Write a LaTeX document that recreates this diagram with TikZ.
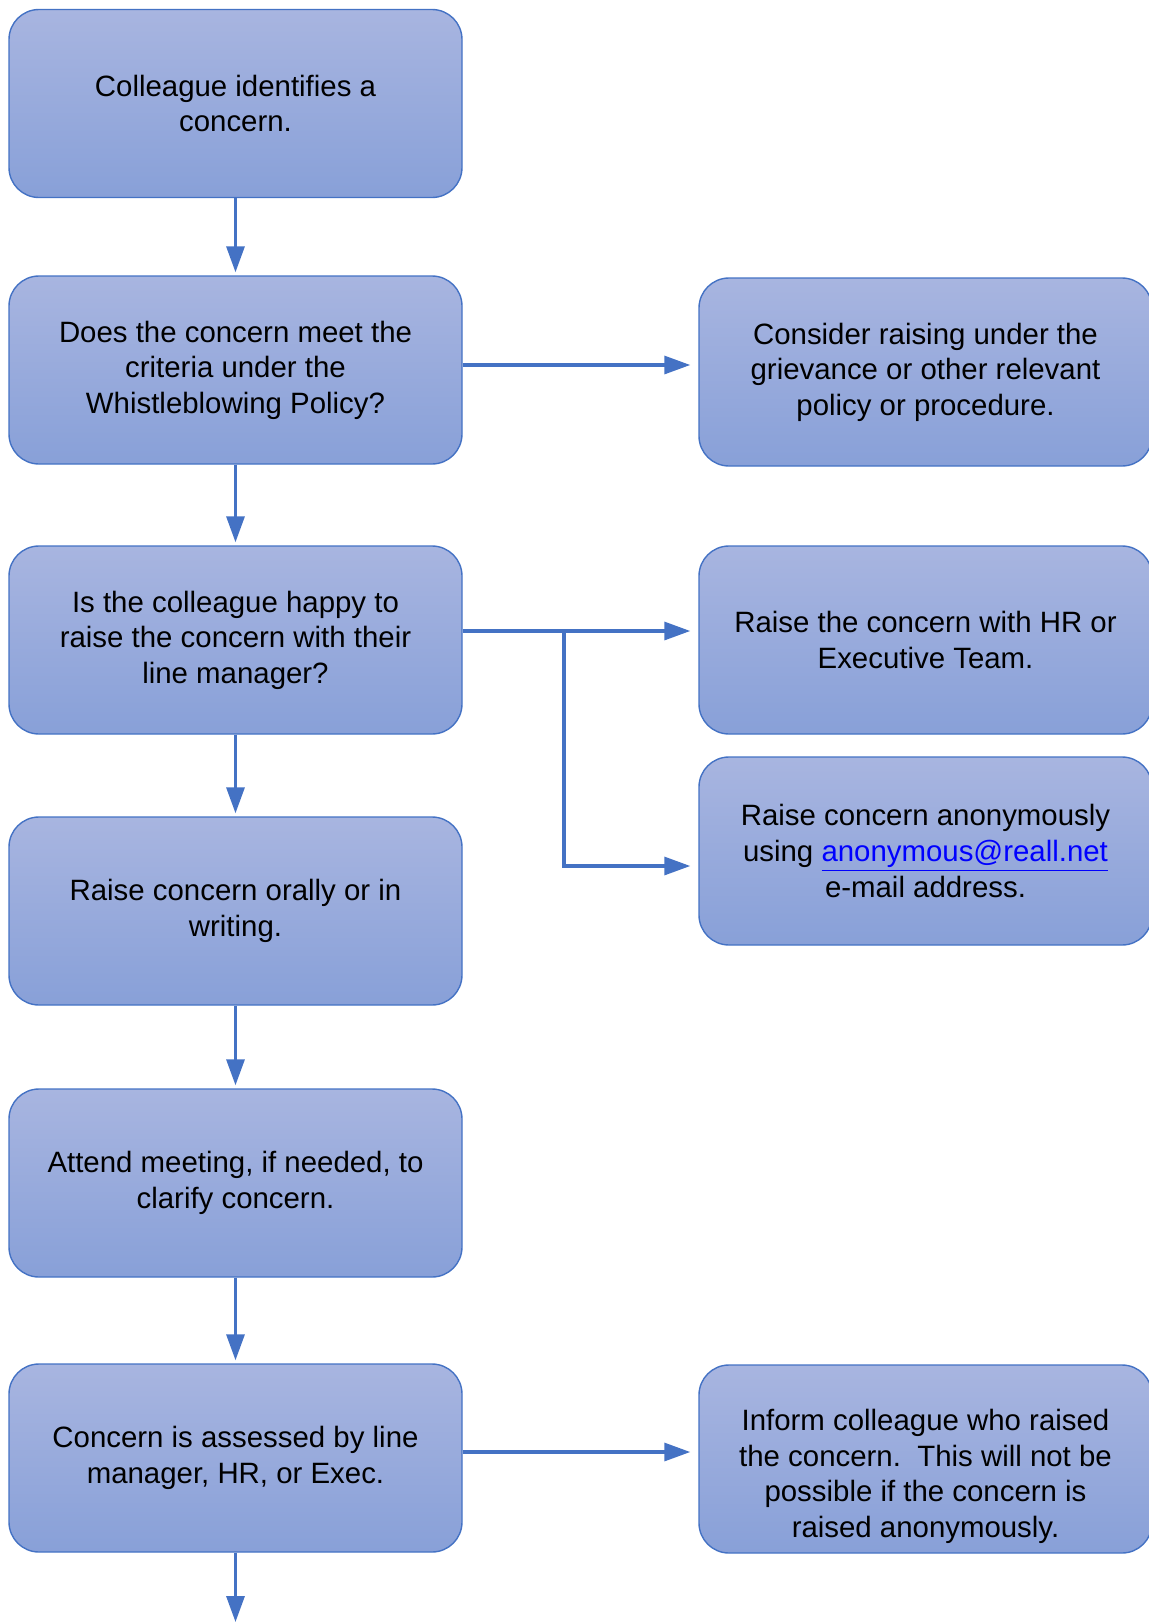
\documentclass[tikz,border=0pt]{standalone}
\usepackage{fontspec}
\setmainfont{Liberation Sans}
\usetikzlibrary{arrows.meta}

\definecolor{boxtop}{RGB}{168,181,224}
\definecolor{boxbottom}{RGB}{136,160,216}
\definecolor{edgeblue}{RGB}{68,114,196}
\definecolor{linkblue}{RGB}{0,0,255}

\newcommand{\lowered}[1]{\raisebox{-9pt}[\height][\depth]{\begin{tabular}{@{}c@{}}#1\end{tabular}}}

\tikzset{
  stepbox/.style={draw=edgeblue, line width=0.7pt, rounded corners=15pt,
    top color=boxtop, bottom color=boxbottom,
    minimum width=226.5pt, minimum height=94pt, align=center,
    font=\fontsize{14.7pt}{17.8pt}\selectfont},
  flow/.style={draw=edgeblue, line width=1.6pt,
    -{Triangle[length=13pt, width=9pt]}}
}

\begin{document}
\begin{tikzpicture}[x=0.5pt, y=-0.5pt]
  \useasboundingbox (0,0) rectangle (1148,1622);

  % left column
  \node[stepbox] (spot) at (235.5,103.5) {Colleague identifies a\\concern.};
  \node[stepbox] (criteria) at (235.5,370) {Does the concern meet the\\criteria under the\\Whistleblowing Policy?};
  \node[stepbox] (happy) at (235.5,640) {Is the colleague happy to\\raise the concern with their\\line manager?};
  \node[stepbox] (raise) at (235.5,911) {Raise concern orally or in\\writing.};
  \node[stepbox] (meeting) at (235.5,1183) {Attend meeting, if needed, to\\clarify concern.};
  \node[stepbox] (assess) at (235.5,1458) {Concern is assessed by line\\manager, HR, or Exec.};

  % right column
  \node[stepbox] (grievance) at (925.5,372) {Consider raising under the\\grievance or other relevant\\policy or procedure.};
  \node[stepbox] (hr) at (925.5,640) {Raise the concern with HR or\\Executive Team.};
  \node[stepbox] (anon) at (925.5,851) {Raise concern anonymously\\using \textcolor{linkblue}{\underline{anonymous@reall.net}}\\e-mail address.};
  \node[stepbox] (inform) at (925.5,1459) {\lowered{Inform colleague who raised\\the concern.\ \ This will not be\\possible if the concern is\\raised anonymously.}};

  \coordinate (split) at (564,631);
  \coordinate (exit) at (235.5,1622);

  % down the left column
  \draw[flow, shorten >=1.5pt] (spot) -- (criteria);
  \draw[flow, shorten >=1.5pt] (criteria) -- (happy);
  \draw[flow, shorten >=1.5pt] (happy) -- (raise);
  \draw[flow, shorten >=1.5pt] (raise) -- (meeting);
  \draw[flow, shorten >=1.5pt] (meeting) -- (assess);
  \draw[flow] (assess) -- (exit);

  % across to the right
  \draw[flow, shorten >=4pt] ([yshift=2.5pt]criteria.east) -- ([yshift=2.5pt]criteria.east -| grievance.west);
  \draw[flow, shorten >=4pt] (happy.east |- split) -- (split -| hr.west);
  \draw[flow, shorten >=4pt] (split) |- ([yshift=-7.5pt]anon.west);
  \draw[flow, shorten >=4pt] ([yshift=3pt]assess.east) -- ([yshift=3pt]assess.east -| inform.west);
\end{tikzpicture}
\end{document}
